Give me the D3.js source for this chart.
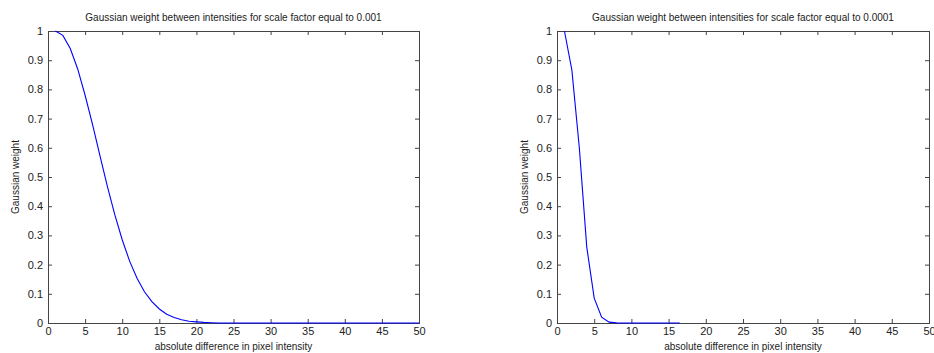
<!DOCTYPE html>
<html>
<head>
<meta charset="utf-8">
<script src="https://cdn.jsdelivr.net/npm/d3@7"></script>
<style>
  body { margin: 0; background: #fff; }
  text { font-family: "Liberation Sans", Arial, sans-serif; fill: #222; }
</style>
</head>
<body>
<div id="chart"></div>
<script>
// data
var xTicks = [0, 5, 10, 15, 20, 25, 30, 35, 40, 45, 50];
var yTicks = [0, 0.1, 0.2, 0.3, 0.4, 0.5, 0.6, 0.7, 0.8, 0.9, 1];

var leftX = [1, 2, 3, 4, 5, 6, 7, 8, 9, 10, 11, 12, 13, 14, 15, 16, 17, 18, 19, 20,
             21, 22, 23, 24, 25, 26, 27, 28, 29, 30, 31, 32, 33, 34, 35, 36, 37, 38, 39, 40,
             41, 42, 43, 44, 45, 46, 47, 48, 49, 50];
var leftY = [1.000, 0.985, 0.940, 0.870, 0.780, 0.680, 0.573, 0.468, 0.371, 0.285,
             0.212, 0.153, 0.107, 0.073, 0.048, 0.030, 0.019, 0.011, 0.006, 0.004,
             0.002, 0.001, 0, 0, 0, 0, 0, 0, 0, 0,
             0, 0, 0, 0, 0, 0, 0, 0, 0, 0,
             0, 0, 0, 0, 0, 0, 0, 0, 0, 0];

var rightX = [1, 2, 3, 4, 5, 6, 7, 8, 9, 10, 11, 12, 13, 14, 15, 16, 16.5];
var rightY = [1.000, 0.866, 0.600, 0.260, 0.085, 0.020, 0.003, 0.0004, 0, 0,
              0, 0, 0, 0, 0, 0, 0];

var titles = ["Gaussian weight between intensities for scale factor equal to 0.001",
              "Gaussian weight between intensities for scale factor equal to 0.0001"];
var xLabel = "absolute difference in pixel intensity";
var yLabel = "Gaussian weight";

var W = 934, H = 353;
var svg = d3.select("#chart")
    .append("svg")
    .attr("width", W)
    .attr("height", H);

// one panel per subplot
function drawPanel(left, right, xs, ys, title) {
    var top = 31, bottom = 323;
    var x = d3.scaleLinear().domain([0, 50]).range([left, right]);
    var y = d3.scaleLinear().domain([0, 1]).range([bottom, top]);

    var g = svg.append("g");

    // bottom axis with labels, ticks inward
    g.append("g")
        .attr("transform", "translate(0," + bottom + ")")
        .call(d3.axisBottom(x).tickValues(xTicks).tickSizeInner(-4).tickSizeOuter(0).tickPadding(4))
        .call(styleAxis);
    // left axis
    g.append("g")
        .attr("transform", "translate(" + left + ",0)")
        .call(d3.axisLeft(y).tickValues(yTicks).tickFormat(d3.format("")).tickSizeInner(-4).tickSizeOuter(0).tickPadding(5))
        .call(styleAxis);
    // top and right, ticks only
    g.append("g")
        .attr("transform", "translate(0," + top + ")")
        .call(d3.axisTop(x).tickValues(xTicks).tickSizeInner(-4).tickSizeOuter(0).tickFormat(""))
        .call(styleAxis);
    g.append("g")
        .attr("transform", "translate(" + right + ",0)")
        .call(d3.axisRight(y).tickValues(yTicks).tickSizeInner(-4).tickSizeOuter(0).tickFormat(""))
        .call(styleAxis);

    // box
    g.append("rect")
        .attr("x", left + 0.5)
        .attr("y", top + 0.5)
        .attr("width", right - left)
        .attr("height", bottom - top)
        .attr("fill", "none")
        .attr("stroke", "#444")
        .attr("stroke-width", 1);

    // curve
    var line = d3.line()
        .x(function(d, i) { return x(xs[i]); })
        .y(function(d) { return y(d); });
    g.append("path")
        .datum(ys)
        .attr("d", line)
        .attr("fill", "none")
        .attr("stroke", "#0000ff")
        .attr("stroke-width", 1.1);

    // labels
    g.append("text")
        .attr("x", (left + right) / 2)
        .attr("y", 21)
        .attr("text-anchor", "middle")
        .style("font-size", "10px")
        .text(title);
    g.append("text")
        .attr("x", (left + right) / 2)
        .attr("y", 350)
        .attr("text-anchor", "middle")
        .style("font-size", "10px")
        .text(xLabel);
    g.append("text")
        .attr("transform", "translate(" + (left - 29) + "," + ((top + bottom) / 2) + ") rotate(-90)")
        .attr("text-anchor", "middle")
        .style("font-size", "10px")
        .text(yLabel);
}

function styleAxis(sel) {
    sel.select(".domain").remove();
    sel.selectAll(".tick line").attr("stroke", "#444");
    sel.selectAll(".tick text")
        .style("font-size", "11px")
        .style("font-family", "'Liberation Sans', Arial, sans-serif")
        .attr("fill", "#222");
}

drawPanel(48, 419, leftX, leftY, titles[0]);
drawPanel(557, 929, rightX, rightY, titles[1]);
</script>
</body>
</html>
